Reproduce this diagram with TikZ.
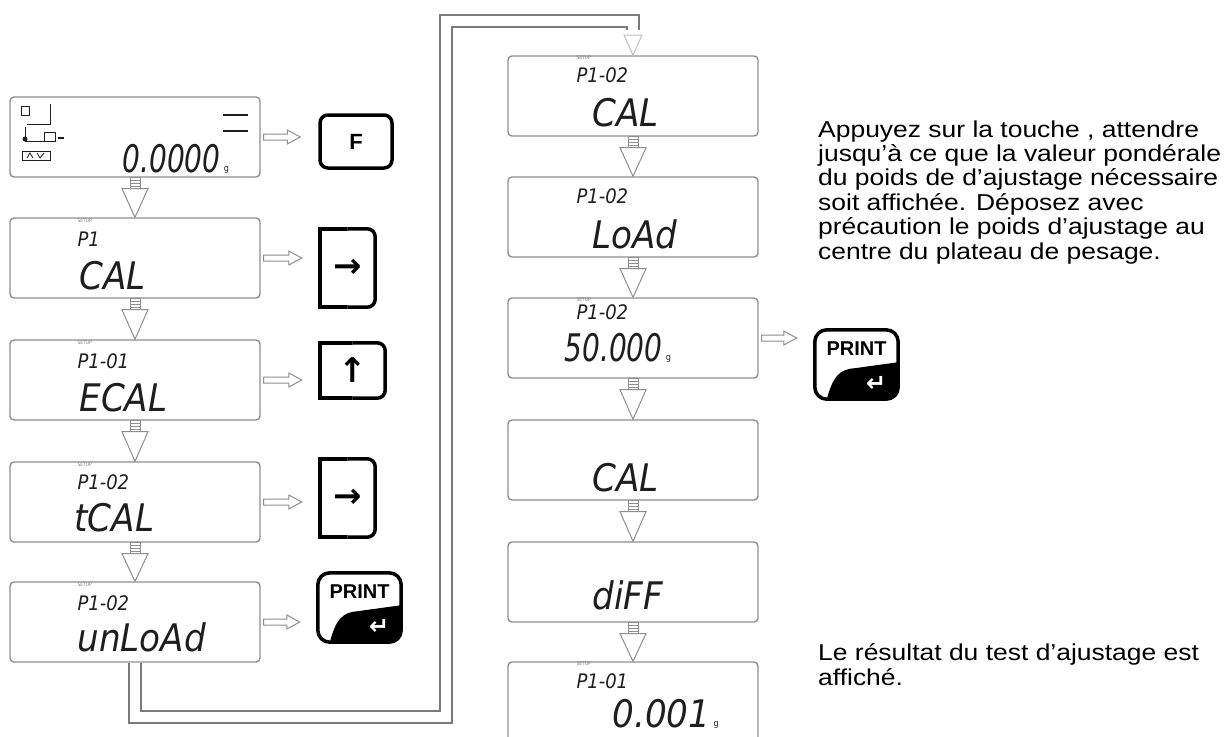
\documentclass[tikz,border=0pt]{standalone}
\usepackage{fontspec}
\setmainfont{Liberation Sans}
\newfontfamily\notefont[FakeStretch=1.15]{Liberation Sans}
\newfontfamily\lcdfont{DejaVu Sans Condensed}
\newfontfamily\lcdnarrow[FakeStretch=0.82]{DejaVu Sans Condensed}
\newfontfamily\symfont{DejaVu Sans}
\usepackage{xcolor}
\usepackage{tikz}
\usetikzlibrary{calc}

\definecolor{lcdframe}{HTML}{8E8E8E}
\definecolor{lcdink}{HTML}{1E1E1E}
\definecolor{loopgray}{HTML}{7A7A7A}

\tikzset{
  lcdbox/.style={draw=lcdframe, line width=1.4pt, rounded corners=4pt, minimum width=250pt, minimum height=80pt, inner sep=0pt},
  setup/.style={anchor=base west, inner sep=0pt, text=gray, font=\lcdfont\fontsize{5}{5}\selectfont},
  ptext/.style={anchor=base west, inner sep=0pt, text=lcdink, font=\lcdfont\itshape\fontsize{20}{20}\selectfont},
  bigtext/.style={anchor=base west, inner sep=0pt, text=lcdink, font=\lcdfont\itshape\fontsize{38}{38}\selectfont},
  bignum/.style={anchor=base west, inner sep=0pt, text=lcdink, font=\lcdnarrow\itshape\fontsize{38}{38}\selectfont},
  unit/.style={anchor=base west, inner sep=0pt, text=lcdink, font=\lcdfont\fontsize{9}{9}\selectfont},
  stepline/.style={draw=lcdframe, line width=1pt},
  keyline/.style={draw=black, line width=3.5pt},
  keysym/.style={inner sep=0pt, font=\symfont\bfseries\fontsize{34}{34}\selectfont},
  looppath/.style={draw=loopgray, line width=1.5pt, double=white, double distance=10.5pt},
  note/.style={anchor=base west, align=left, inner sep=0pt, font=\notefont\fontsize{23}{24.4}\selectfont}
}

% hollow arrow down between two displays
\newcommand{\stepdown}[2]{%
  \draw[stepline, fill=white] ($(#1.south)+(-13,11)$) -- ($(#1.south)+(13,11)$) -- (#2.north) -- cycle;
  \draw[stepline, fill=white] ($(#1.south)+(-5,0)$) rectangle ($(#1.south)+(5,11)$);
  \foreach \k in {3,6,9} \draw[stepline] ($(#1.south)+(-5,\k)$) -- ++(10,0);}

% hollow arrow from a display to its key
\newcommand{\stepright}[2]{%
  \coordinate (tip) at ($(#1.east -| #2.west)+(-18,0)$);
  \draw[stepline, fill=white] ($(#1.east)+(3,-3)$) -- ($(tip)+(-13,-3)$) -- ($(tip)+(-13,-7)$) -- (tip)
    -- ($(tip)+(-13,7)$) -- ($(tip)+(-13,3)$) -- ($(#1.east)+(3,3)$) -- cycle;}

% key outline, square left corners
\newcommand{\keyframe}[1]{%
  \begin{scope}
    \clip ($(#1.north west)+(-5,-5)$) rectangle ($(#1.south)+(0,5)$);
    \draw[keyline] (#1.north west) rectangle (#1.south east);
  \end{scope}
  \begin{scope}
    \clip ($(#1.north)+(0,-5)$) rectangle ($(#1.south east)+(5,5)$);
    \draw[keyline, rounded corners=8pt] (#1.north west) rectangle (#1.south east);
  \end{scope}}

% PRINT key
\newcommand{\printkey}[1]{%
  \begin{scope}
    \clip[rounded corners=12pt] (#1.north west) rectangle (#1.south east);
    \fill ($(#1.south west)+(12,0)$) .. controls ($(#1.south west)+(18,-22)$) and ($(#1.south west)+(24,-30)$) .. ($(#1.south west)+(40,-31)$)
      -- ($(#1.south east)+(0,-37)$) -- (#1.south east) -- cycle;
  \end{scope}
  \draw[keyline, rounded corners=12pt] (#1.north west) rectangle (#1.south east);
  \node[font=\bfseries\fontsize{20}{20}\selectfont, inner sep=0pt] (#1-txt) at ($(#1.north)+(0,19)$) {PRINT};
  \node[text=white, font=\symfont\bfseries\fontsize{24}{24}\selectfont, inner sep=0pt] (#1-ret) at ($(#1.south east)+(-22,-15)$) {↵};}

\begin{document}
\begin{tikzpicture}[x=1pt, y=-1pt]
\useasboundingbox (0,0) rectangle (1228,736);

% left column
\node[lcdbox] (b1) at (135,137) {};
\node[lcdbox] (b2) at (135,258) {};
\node[lcdbox] (b3) at (135,380) {};
\node[lcdbox] (b4) at (135,502) {};
\node[lcdbox] (b5) at (135,622) {};

\draw[lcdink, line width=0.8pt] (21,106) rectangle (29,115);
\draw[lcdink, line width=0.8pt] (50,104) -- (50,124) -- (27,124);
\draw[lcdink, line width=0.8pt] (25,127) -- (25,141) -- (55,141) -- (55,132) -- (44,132) -- (44,141);
\fill[lcdink] (25,139) circle (2.5);
\draw[lcdink, line width=1.2pt] (58,138) -- (64,138);
\draw[lcdink, line width=0.8pt] (22,151) rectangle (50,160);
\draw[lcdink, line width=0.8pt] (27,158) -- (30,153) -- (33,158) (37,153) -- (40,158) -- (44,153);
\draw[lcdink, line width=1.2pt] (223,115) -- (248,115);
\draw[lcdink, line width=2.6pt] (223,131) -- (248,131);
\node[bignum] (b1v) at ($(b1.north west)+(113,76)$) {0.0000};
\node[unit] (b1g) at ($(b1v.base east)+(3,-1)$) {g};

\node[setup] (b2s) at ($(b2.north west)+(68,5)$) {SETUP};
\node[ptext] (b2p) at ($(b2.north west)+(68,29)$) {P1};
\node[bigtext] (b2v) at ($(b2.north west)+(70,72)$) {CAL};

\node[setup] (b3s) at ($(b3.north west)+(68,5)$) {SETUP};
\node[ptext] (b3p) at ($(b3.north west)+(68,29)$) {P1-01};
\node[bigtext] (b3v) at ($(b3.north west)+(70,72)$) {ECAL};

\node[setup] (b4s) at ($(b4.north west)+(68,5)$) {SETUP};
\node[ptext] (b4p) at ($(b4.north west)+(68,28)$) {P1-02};
\node[bigtext] (b4v) at ($(b4.north west)+(65,70)$) {tCAL};

\node[setup] (b5s) at ($(b5.north west)+(68,5)$) {SETUP};
\node[ptext] (b5p) at ($(b5.north west)+(68,29)$) {P1-02};
\node[bigtext] (b5v) at ($(b5.north west)+(68,70)$) {unLoAd};

\stepdown{b1}{b2}
\stepdown{b2}{b3}
\stepdown{b3}{b4}
\stepdown{b4}{b5}

% keys
\node[draw, keyline, rounded corners=8pt, minimum width=72pt, minimum height=53pt, inner sep=0pt,
  font=\bfseries\fontsize{22}{22}\selectfont] (kF) at (356,141.5) {F};
\node[keysym, minimum width=55pt, minimum height=78pt] (kR1) at (347.5,268) {→};
\node[keysym, minimum width=65pt, minimum height=55pt] (kU) at (352.5,370.5) {↑};
\node[keysym, minimum width=55pt, minimum height=78pt] (kR2) at (347.5,498) {→};
\node[minimum width=83pt, minimum height=69pt, inner sep=0pt] (kP1) at (359.5,607.5) {};
\keyframe{kR1}
\keyframe{kU}
\keyframe{kR2}
\printkey{kP1}

\stepright{b1}{kF}
\stepright{b2}{kR1}
\stepright{b3}{kU}
\stepright{b4}{kR2}
\stepright{b5}{kP1}

% right column
\node[lcdbox] (r1) at (633,96) {};
\node[lcdbox] (r2) at (633,217) {};
\node[lcdbox] (r3) at (633,338) {};
\node[lcdbox] (r4) at (633,460) {};
\node[lcdbox] (r5) at (633,582) {};
\node[lcdbox] (r6) at (633,702) {};

\node[setup] (r1s) at ($(r1.north west)+(69,4)$) {SETUP};
\node[ptext] (r1p) at ($(r1.north west)+(69,27)$) {P1-02};
\node[bigtext] (r1v) at ($(r1.north west)+(85,71)$) {CAL};

\node[ptext] (r2p) at ($(r2.north west)+(69,27)$) {P1-02};
\node[bigtext] (r2v) at ($(r2.north west)+(85,72)$) {LoAd};

\node[setup] (r3s) at ($(r3.north west)+(69,4)$) {SETUP};
\node[ptext] (r3p) at ($(r3.north west)+(69,22)$) {P1-02};
\node[bignum] (r3v) at ($(r3.north west)+(57,64)$) {50.000};
\node[unit] (r3g) at ($(r3v.base east)+(3,-1)$) {g};

\node[bigtext] (r4v) at ($(r4.north west)+(85,72)$) {CAL};
\node[bigtext] (r5v) at ($(r5.north west)+(85,68)$) {diFF};

\node[setup] (r6s) at ($(r6.north west)+(69,4)$) {SETUP};
\node[ptext] (r6p) at ($(r6.north west)+(69,27)$) {P1-01};
\node[bigtext] (r6v) at ($(r6.north west)+(105,66)$) {0.001};
\node[unit] (r6g) at ($(r6v.base east)+(3,-1)$) {g};

\stepdown{r1}{r2}
\stepdown{r2}{r3}
\stepdown{r3}{r4}
\stepdown{r4}{r5}
\stepdown{r5}{r6}

\node[minimum width=83pt, minimum height=69pt, inner sep=0pt] (kP2) at (856.5,364.5) {};
\printkey{kP2}
\stepright{r3}{kP2}

% loop from unLoAd to the second column
\coordinate (lpb) at (446,717);
\coordinate (lpt) at (446,21);
\coordinate (lpe) at (633,30);
\draw[looppath] (b5.south) |- (lpb) -- (lpt) -| (lpe);
\draw[stepline, draw=lightgray, fill=white] ($(lpe)+(-9,5)$) -- ($(lpe)+(9,5)$) -- (r1.north) -- cycle;

% notes
\node[note] (note1) at (818,259) {Appuyez sur la touche , attendre\\
jusqu’à ce que la valeur pondérale\\
du poids de d’ajustage nécessaire\\
soit affichée. Déposez avec\\
précaution le poids d’ajustage au\\
centre du plateau de pesage.};
\node[note] (note2) at (818,685) {Le résultat du test d’ajustage est\\
affiché.};
\end{tikzpicture}
\end{document}
